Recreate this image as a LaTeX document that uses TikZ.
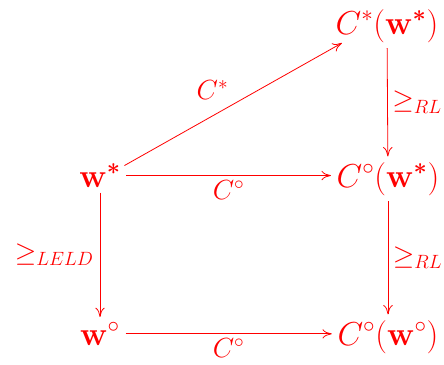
\documentclass[tikz,border=0pt]{standalone}
\usepackage{amsmath,amssymb,bm}
\usetikzlibrary{arrows.meta}
\begin{document}
\begin{tikzpicture}[x=0.75pt, y=-0.75pt, >={To[length=7pt,width=7pt]}, red, line width=0.6pt,
    obj/.style={font=\fontsize{23}{28}\selectfont, anchor=base, inner sep=4pt},
    lbl/.style={font=\fontsize{19.5}{24}\selectfont}]
    \useasboundingbox (0,0) rectangle (444,365);
    \node[obj] (ws) at (100,187) {$\mathbf{w}^{\bm{*}}$};
    \node[obj] (wo) at (100,345) {$\mathbf{w}^{\circ}$};
    \node[obj] (cs) at (387,34) {$C^*(\mathbf{w}^{\bm{*}})$};
    \node[obj] (cows) at (388,187) {$C^\circ(\mathbf{w}^{\bm{*}})$};
    \node[obj] (cowo) at (388,345) {$C^\circ(\mathbf{w}^\circ)$};
    \draw[->] (ws.east) ++(-2,-10) coordinate (a) -- ([shift={(12,-5)}]cs.south west) node[lbl, midway, above left] {$C^*$};
    \draw[->] (ws.east) -- (ws.east -| cows.west) node[lbl, midway, below] {$C^\circ$};
    \draw[->] (wo.east) -- (wo.east -| cowo.west) node[lbl, midway, below] {$C^\circ$};
    \draw[->] (ws) -- (wo) node[lbl, midway, left=1pt] {$\geq_{LELD}$};
    \draw[->] (cs) -- (cows) node[lbl, midway, right] {$\geq_{RL}$};
    \draw[->] (cows) -- (cowo) node[lbl, midway, right] {$\geq_{RL}$};
\end{tikzpicture}
\end{document}
